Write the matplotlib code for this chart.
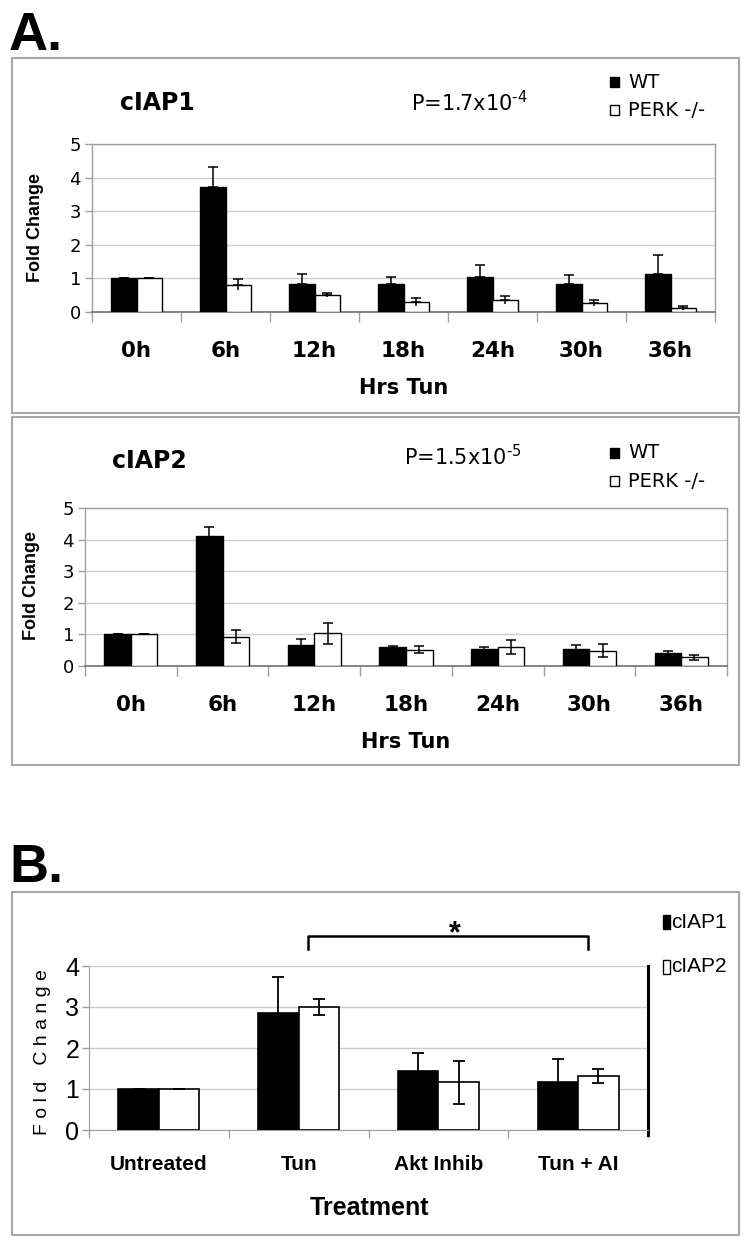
import numpy as np
import matplotlib
matplotlib.use("Agg")
import matplotlib.pyplot as plt
from matplotlib.patches import Rectangle

plt.rcParams['font.family'] = ['DejaVu Sans']
plt.rcParams['mathtext.default'] = 'regular'

# data
hours = ["0h", "6h", "12h", "18h", "24h", "30h", "36h"]
wt1 = [1.0, 3.73, 0.82, 0.82, 1.05, 0.82, 1.13]
wt1_err = [0, 0.60, 0.31, 0.22, 0.35, 0.27, 0.57]
perk1 = [1.0, 0.81, 0.51, 0.30, 0.35, 0.27, 0.12]
perk1_err = [0, 0.17, 0.07, 0.13, 0.12, 0.08, 0.07]

wt2 = [1.0, 4.12, 0.65, 0.61, 0.53, 0.53, 0.40]
wt2_err = [0, 0.28, 0.19, 0.03, 0.07, 0.15, 0.08]
perk2 = [1.0, 0.93, 1.03, 0.52, 0.60, 0.49, 0.28]
perk2_err = [0, 0.21, 0.33, 0.10, 0.22, 0.20, 0.08]

treatments = ["Untreated", "Tun", "Akt Inhib", "Tun + AI"]
ciap1 = [1.0, 2.86, 1.44, 1.17]
ciap1_err = [0, 0.87, 0.43, 0.55]
ciap2 = [1.0, 3.0, 1.16, 1.32]
ciap2_err = [0, 0.20, 0.52, 0.17]

W, H = 747, 1246
fig = plt.figure(figsize=(W / 100, H / 100), dpi=100)
fig.patch.set_facecolor('white')

def fx(px):
    return px / W

def fy(py):
    return 1 - py / H

def box(x0, y0, x1, y1):
    fig.patches.append(Rectangle((fx(x0), fy(y1)), (x1 - x0) / W, (y1 - y0) / H,
                                 transform=fig.transFigure, fill=False,
                                 edgecolor='#a8a8a8', lw=1.5))

def key(x, y, w, h, fc):
    fig.patches.append(Rectangle((fx(x), fy(y + h / 2)), w / W, h / H,
                                 transform=fig.transFigure, facecolor=fc,
                                 edgecolor='black', lw=1))

bw = 0.29
grey = '#a0a0a0'
grid = '#cccccc'

def panel_a(left, right, top, bottom, wt, wt_err, perk, perk_err, lower_caps):
    ax = fig.add_axes([fx(left), fy(bottom), (right - left) / W, (bottom - top) / H])
    x = np.arange(len(hours))
    ax.bar(x - bw / 2, wt, bw, color='black', edgecolor='black', lw=1, zorder=3)
    ax.bar(x + bw / 2, perk, bw, color='white', edgecolor='black', lw=1, zorder=3)
    for xs, ys, es in [(x - bw / 2, wt, wt_err), (x + bw / 2, perk, perk_err)]:
        es = np.array(es)
        if lower_caps:
            ax.errorbar(xs, ys, yerr=es, fmt='none', ecolor='black', elinewidth=1.1,
                        capsize=3.6, capthick=1.1, zorder=4)
        else:
            # only the top end carries a cap here
            ax.errorbar(xs, ys, yerr=[np.zeros_like(es), es], fmt='none', ecolor='black',
                        elinewidth=1.1, capsize=3.6, capthick=1.1, zorder=4)
            ax.errorbar(xs, ys, yerr=[es, np.zeros_like(es)], fmt='none', ecolor='black',
                        elinewidth=1.1, capsize=0, zorder=4)
    ax.set_xlim(-0.5, len(hours) - 0.5)
    ax.set_ylim(0, 5)
    ax.set_yticks(range(6))
    ax.set_yticklabels([str(i) for i in range(6)], fontsize=13)
    ax.yaxis.grid(True, color=grid, lw=1)
    ax.set_axisbelow(True)
    ax.set_xticks(x)
    ax.set_xticklabels(hours, fontsize=15.5, fontweight='bold')
    ax.set_xticks(np.arange(-0.5, len(hours)), minor=True)
    ax.tick_params(axis='x', which='major', length=0, pad=21)
    ax.tick_params(axis='x', which='minor', length=7, color=grey, width=1)
    ax.tick_params(axis='y', length=5, color=grey, width=1, pad=3)
    for s in ['left', 'top', 'right']:
        ax.spines[s].set_color(grey)
        ax.spines[s].set_linewidth(1)
    ax.spines['bottom'].set_color('#707070')
    ax.spines['bottom'].set_linewidth(1.2)
    return ax

# ---- panel A
fig.text(fx(9), fy(50), "A.", fontsize=39, fontweight='bold', family='Liberation Sans')
box(12, 58, 739, 413)
box(12, 417, 739, 765)

panel_a(92, 715, 144, 312, wt1, wt1_err, perk1, perk1_err, False)
fig.text(fx(120), fy(110), "cIAP1", fontsize=17, fontweight='bold')
fig.text(fx(411), fy(111), "P=1.7x10$^{\u20104}$", fontsize=15)
key(610, 82, 9, 10, 'black')
fig.text(fx(628), fy(82), "WT", fontsize=14, va='center')
key(610, 110, 9, 10, 'white')
fig.text(fx(628), fy(110), "PERK -/-", fontsize=14, va='center')
fig.text(fx(404), fy(388), "Hrs Tun", fontsize=15, fontweight='bold', ha='center', va='center')
fig.text(fx(35), fy(228), "Fold Change", fontsize=13, fontweight='bold', rotation=90,
         ha='center', va='center', family='Liberation Sans')

panel_a(85, 727, 508, 666, wt2, wt2_err, perk2, perk2_err, True)
fig.text(fx(112), fy(468), "cIAP2", fontsize=17, fontweight='bold')
fig.text(fx(404), fy(465), "P=1.5x10$^{\u20105}$", fontsize=15)
key(610, 453, 9, 10, 'black')
fig.text(fx(628), fy(453), "WT", fontsize=14, va='center')
key(610, 481, 9, 10, 'white')
fig.text(fx(628), fy(481), "PERK -/-", fontsize=14, va='center')
fig.text(fx(406), fy(742), "Hrs Tun", fontsize=15, fontweight='bold', ha='center', va='center')
fig.text(fx(32), fy(585), "Fold Change", fontsize=13, fontweight='bold', rotation=90,
         ha='center', va='center', family='Liberation Sans')

# ---- panel B
narrow = ['Liberation Sans Narrow', 'Liberation Sans']
fig.text(fx(9), fy(882), "B.", fontsize=39, fontweight='bold', family='Liberation Sans')
box(12, 892, 739, 1235)

axb = fig.add_axes([fx(89), fy(1130), (648 - 89) / W, (1130 - 966) / H])
xb = np.arange(len(treatments))
axb.bar(xb - bw / 2, ciap1, bw, color='black', edgecolor='black', lw=1.2, zorder=3)
axb.bar(xb + bw / 2, ciap2, bw, color='white', edgecolor='black', lw=1.2, zorder=3)
axb.errorbar(xb - bw / 2, ciap1, yerr=ciap1_err, fmt='none', ecolor='black',
             elinewidth=1.3, capsize=4.3, capthick=1.3, zorder=4)
axb.errorbar(xb + bw / 2, ciap2, yerr=ciap2_err, fmt='none', ecolor='black',
             elinewidth=1.3, capsize=4.3, capthick=1.3, zorder=4)
axb.set_xlim(-0.5, len(treatments) - 0.5)
axb.set_ylim(0, 4)
axb.set_yticks(range(5))
axb.set_yticklabels([str(i) for i in range(5)], fontsize=18, family=narrow)
axb.yaxis.grid(True, color=grid, lw=1)
axb.set_axisbelow(True)
axb.set_xticks(xb)
axb.set_xticklabels(treatments, fontsize=15, fontweight='bold', family=narrow)
axb.set_xticks(np.arange(-0.5, len(treatments)), minor=True)
axb.tick_params(axis='x', which='major', length=0, pad=18)
axb.tick_params(axis='x', which='minor', length=6, color=grey, width=1)
axb.tick_params(axis='y', length=5, color=grey, width=1, pad=2)
axb.spines['top'].set_visible(False)
axb.spines['right'].set_visible(False)
axb.spines['left'].set_color(grey)
axb.spines['bottom'].set_color(grey)
axb.plot([1, 1], [-0.03, 1], transform=axb.transAxes, color='black', lw=2.2, clip_on=False)

# significance bracket between Tun and Tun + AI
b0, b1 = xb[1] + 0.07, xb[3] + 0.07
axb.plot([b0, b0, b1, b1], [4.41, 4.73, 4.73, 4.41], color='black', lw=1.8, clip_on=False)
axb.text((b0 + b1) / 2 + 0.05, 4.78, "*", fontsize=22, fontweight='bold', ha='center',
         va='center', family='Liberation Sans')

key(663, 922, 7, 14, 'black')
fig.text(fx(671), fy(922), "cIAP1", fontsize=15, va='center', family=narrow)
key(663, 967, 7, 14, 'white')
fig.text(fx(671), fy(967), "cIAP2", fontsize=15, va='center', family=narrow)
fig.text(fx(369), fy(1208), "Treatment", fontsize=18, fontweight='bold', ha='center',
         va='center', family=narrow)
fig.text(fx(43), fy(1052), "F o l d   C h a n g e", fontsize=14, rotation=90,
         ha='center', va='center', family='Liberation Sans')

fig.savefig("out.png", dpi=100)
